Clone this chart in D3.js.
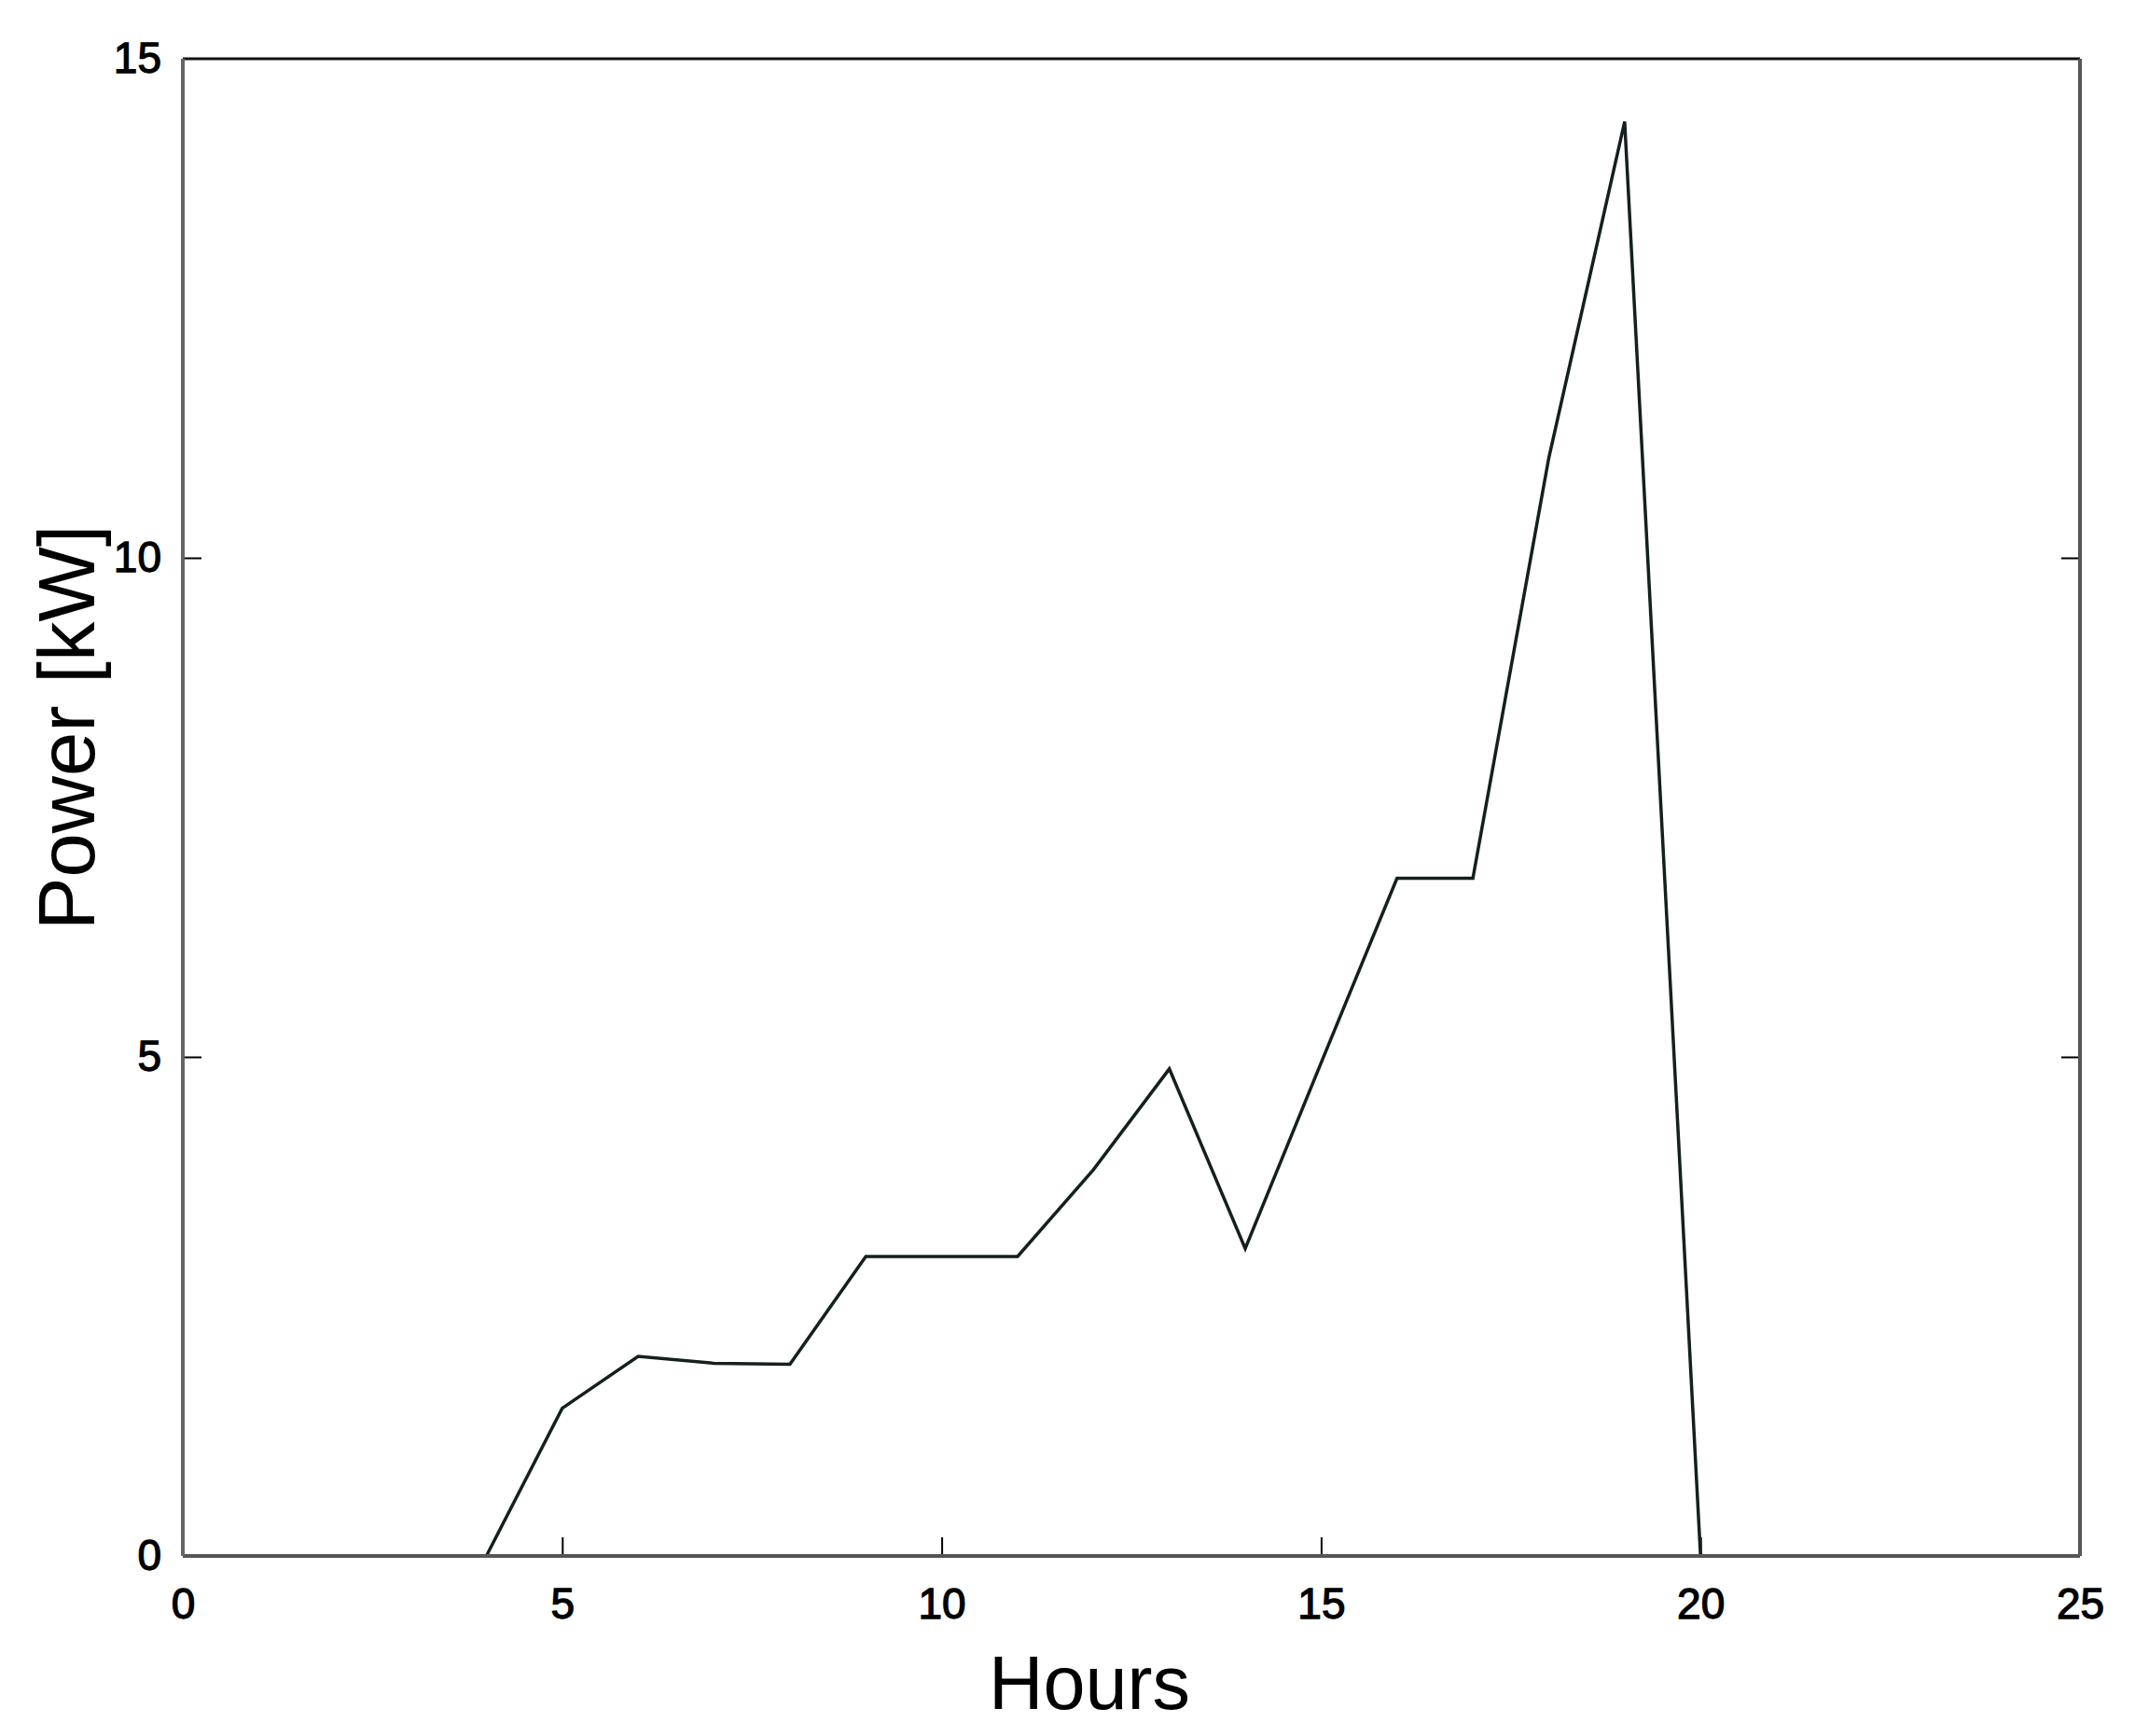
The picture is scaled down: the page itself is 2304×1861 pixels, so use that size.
<!DOCTYPE html>
<html>
<head>
<meta charset="utf-8">
<script src="https://cdn.jsdelivr.net/npm/d3@7"></script>
<style>
  body { margin: 0; background: #fff; }
  .tick text { font-family: "Liberation Sans", Arial, sans-serif; font-size: 46px; fill: #000; stroke: #000; stroke-width: 1.3px; }
  .axis-label { font-family: "Liberation Sans", Arial, sans-serif; font-size: 81px; fill: #000; }
</style>
</head>
<body>
<svg id="chart"></svg>
<script>
// data
const hours = [4, 5, 6, 7, 8, 9, 10, 11, 12, 13, 14, 15, 16, 17, 18, 19, 20];
const power = [0, 1.48, 2.0, 1.93, 1.92, 3.0, 3.0, 3.0, 3.87, 4.88, 3.08, 4.94, 6.79, 6.79, 11.0, 14.37, 0];
const xticks = [0, 5, 10, 15, 20, 25];
const yticks = [0, 5, 10, 15];

const totalW = 2304, totalH = 1861;
const margin = {left: 196, top: 63, right: 74, bottom: 193};
const W = totalW - margin.left - margin.right;
const H = totalH - margin.top - margin.bottom;
const TICK = 20;

const root = d3.select('#chart')
  .attr('width', totalW)
  .attr('height', totalH);
const svg = root.append('g')
  .attr('transform', `translate(${margin.left},${margin.top})`);

const xscale = d3.scaleLinear().domain([0, 25]).range([0, W]);
const yscale = d3.scaleLinear().domain([0, 15]).range([H, 0]);

// x axis, ticks point inward
const xaxis = svg.append('g')
  .attr('transform', `translate(0,${H})`)
  .call(d3.axisBottom(xscale).tickValues(xticks)
    .tickSizeInner(-TICK).tickSizeOuter(0).tickPadding(34));
// y axis
const yaxis = svg.append('g')
  .call(d3.axisLeft(yscale).tickValues(yticks)
    .tickSizeInner(-TICK).tickSizeOuter(0).tickPadding(23));
// mirrored ticks on the right
const raxis = svg.append('g')
  .attr('transform', `translate(${W},0)`)
  .call(d3.axisRight(yscale).tickValues(yticks)
    .tickSizeInner(-TICK).tickSizeOuter(0).tickFormat(''));

[xaxis, yaxis, raxis].forEach(a => {
  a.select('.domain').remove();
  a.selectAll('.tick line').attr('stroke', '#000').attr('stroke-width', 2);
});
// hide end ticks that sit on the frame
xaxis.selectAll('.tick line').filter(d => d === 0 || d === 25).remove();
yaxis.selectAll('.tick line').filter(d => d === 0 || d === 15).remove();
raxis.selectAll('.tick line').filter(d => d === 0 || d === 15).remove();

// data line
const line = d3.line()
  .x((d, i) => xscale(hours[i]))
  .y(d => yscale(d));
svg.append('path')
  .datum(power)
  .attr('fill', 'none')
  .attr('stroke', '#14201f')
  .attr('stroke-width', 3.5)
  .attr('stroke-linejoin', 'miter')
  .attr('d', line);

// box frame
svg.append('line').attr('x1', 0).attr('x2', W).attr('y1', 0).attr('y2', 0)
  .attr('stroke', '#111').attr('stroke-width', 3);
svg.append('line').attr('x1', 0).attr('x2', W).attr('y1', H).attr('y2', H)
  .attr('stroke', '#555').attr('stroke-width', 4);
svg.append('line').attr('x1', 0).attr('x2', 0).attr('y1', 0).attr('y2', H)
  .attr('stroke', '#666').attr('stroke-width', 4);
svg.append('line').attr('x1', W).attr('x2', W).attr('y1', 0).attr('y2', H)
  .attr('stroke', '#555').attr('stroke-width', 4);

// axis titles
root.append('text')
  .classed('axis-label', true)
  .attr('x', 1168)
  .attr('y', 1832)
  .attr('text-anchor', 'middle')
  .text('Hours');
root.append('text')
  .classed('axis-label', true)
  .style('font-size', '85px')
  .attr('transform', 'translate(101,780) rotate(-90)')
  .attr('text-anchor', 'middle')
  .text('Power [kW]');
</script>
</body>
</html>
